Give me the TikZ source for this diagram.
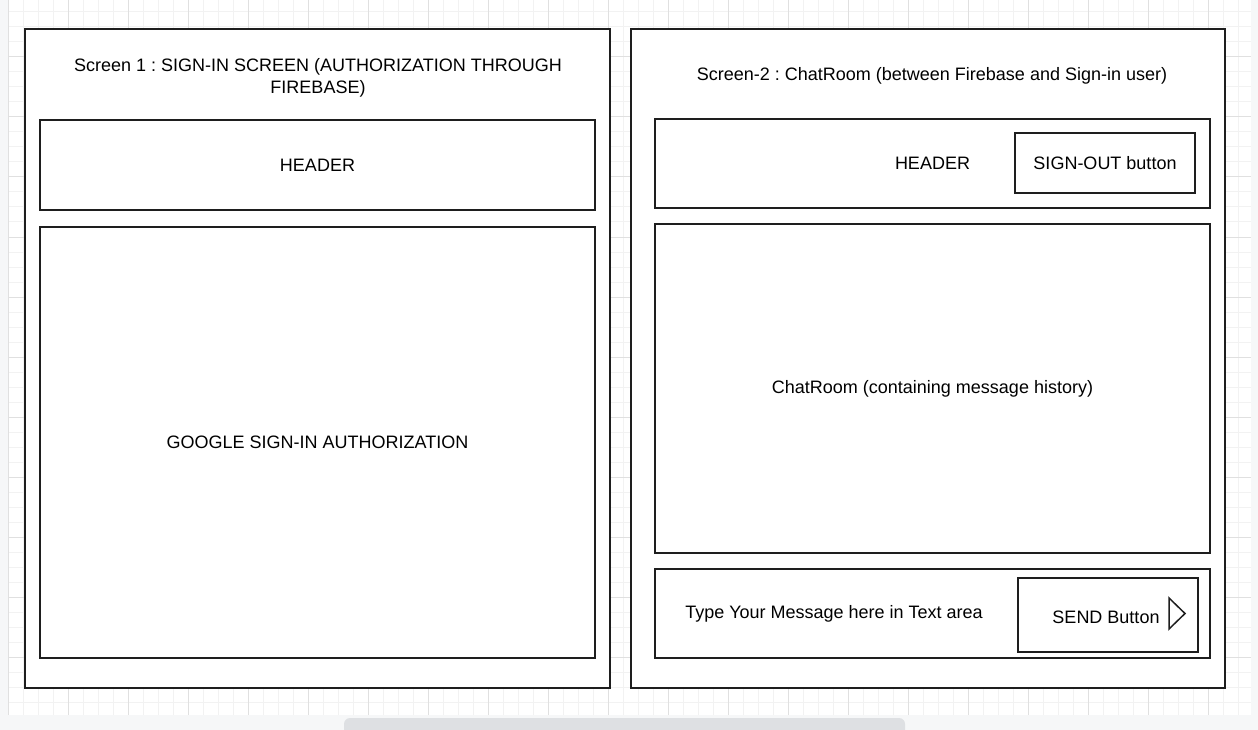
\documentclass[tikz,border=0pt]{standalone}
\usepackage{fontspec}
\setmainfont{Liberation Sans}
\usetikzlibrary{positioning}
\frenchspacing
\definecolor{stripcolor}{RGB}{246,247,248}
\definecolor{gridminor}{RGB}{242,242,242}
\definecolor{gridmajor}{RGB}{224,224,224}
\definecolor{barcolor}{RGB}{222,224,227}
\definecolor{strokecolor}{RGB}{30,30,30}
\newcommand{\uifont}{\fontsize{18}{22}\selectfont}
\tikzstyle{every node}=[font=\uifont, inner sep=0, outer sep=0, text=black]
\tikzstyle{panel}=[draw=strokecolor, line width=1.5pt, fill=white, anchor=north west, align=center]

\begin{document}
\begin{tikzpicture}[x=1pt, y=-1pt]
\useasboundingbox (0,0) rectangle (1258,730);
% canvas and grid
\fill[stripcolor] (0,0) rectangle (1258,730);
\fill[white] (8,0) rectangle (1251,715);
\foreach \gx in {8,23,...,1250}
{
\draw[gridminor, line width=1pt] (\gx,0) -- (\gx,715);
}
\foreach \gy in {12,27,...,714}
{
\draw[gridminor, line width=1pt] (8,\gy) -- (1251,\gy);
}
\foreach \gx in {8,68,...,1250}
{
\draw[gridmajor, line width=1pt] (\gx,0) -- (\gx,715);
}
\foreach \gy in {57,117,...,714}
{
\draw[gridmajor, line width=1pt] (8,\gy) -- (1251,\gy);
}
\fill[barcolor, rounded corners=6pt] (344,718) rectangle (905,740);

% screen 1
\node[panel, minimum width=585, minimum height=659] (screenone) at (25,29) {};
\node[align=center] (titleone) at (318,78) {Screen 1 : SIGN-IN SCREEN (AUTHORIZATION THROUGH\\FIREBASE)};
\node[panel, minimum width=555, minimum height=90] (headerone) at (40,120) {HEADER};
\node[panel, minimum width=555, minimum height=431] (googlebox) at (40,227) {GOOGLE SIGN-IN AUTHORIZATION};

% screen 2
\node[panel, minimum width=594, minimum height=659] (screentwo) at (631,29) {};
\node (titletwo) at (932,76) {Screen-2 : ChatRoom (between Firebase and Sign-in user)};
\node[panel, minimum width=555, minimum height=89] (headertwo) at (655,119) {HEADER};
\node[panel, minimum width=180, minimum height=60] (signout) at (1015,133) {SIGN-OUT button};
\node[panel, minimum width=555, minimum height=329] (chatroom) at (655,224) {ChatRoom (containing message history)};
\node[panel, minimum width=555, minimum height=89] (inputbar) at (655,569) {};
\node (typehere) at (834,614) {Type Your Message here in Text area};
\node[panel, minimum width=180, minimum height=74] (sendbtn) at (1018,578) {};
\node (sendlabel) at (1106,617) {SEND Button};
\draw[strokecolor, line width=1.5pt, line join=miter] (1169,598) -- (1185,613.5) -- (1169,629) -- cycle;
\end{tikzpicture}
\end{document}
